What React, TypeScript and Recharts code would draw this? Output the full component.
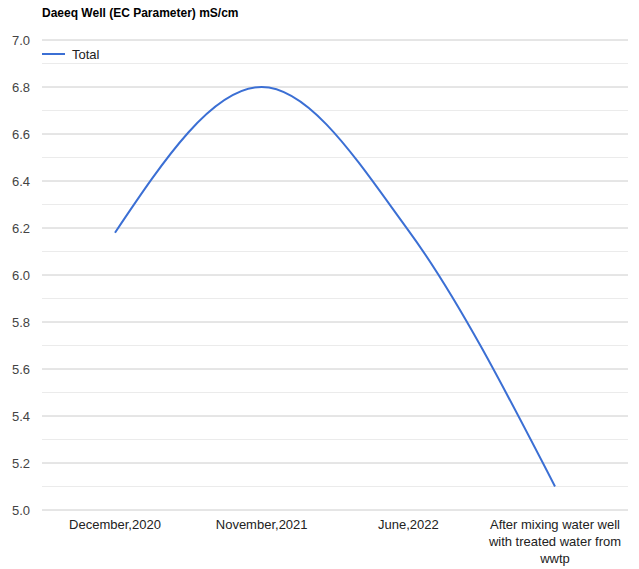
import React from "react";
import { LineChart, Line, XAxis, YAxis, CartesianGrid, ReferenceLine } from "recharts";

const categories = [
  "December,2020",
  "November,2021",
  "June,2022",
  "After mixing water well with treated water from wwtp",
];
const totalValues = [6.18, 6.8, 6.19, 5.1];
const majorTicks = [5.0, 5.2, 5.4, 5.6, 5.8, 6.0, 6.2, 6.4, 6.6, 6.8, 7.0];
const minorTicks = [5.1, 5.3, 5.5, 5.7, 5.9, 6.1, 6.3, 6.5, 6.7, 6.9];
const categoryLines: Record<string, string[]> = {
  "After mixing water well with treated water from wwtp": [
    "After mixing water well",
    "with treated water from",
    "wwtp",
  ],
};

const data = categories.map((c, i) => ({ name: c, Total: totalValues[i] }));

const FONT = "Arial, 'Liberation Sans', sans-serif";
const LINE_COLOR = "#3b6fd4";

const XTick = (props: any) => {
  const { x, y, payload } = props;
  const lines = categoryLines[payload.value] || [payload.value];
  return (
    <text x={x} y={y} textAnchor="middle" fill="#222" fontSize={13} fontFamily={FONT}>
      {lines.map((l: string, i: number) => (
        <tspan key={i} x={x} dy={i === 0 ? 9 : 17}>
          {l}
        </tspan>
      ))}
    </text>
  );
};

export default function App() {
  return (
    <div style={{ position: "absolute", left: 0, top: 0, width: 639, height: 569, background: "#fff" }}>
      <div
        style={{
          position: "absolute",
          left: 42,
          top: 6,
          fontFamily: FONT,
          fontWeight: "bold",
          fontSize: 12,
          color: "#000",
          whiteSpace: "nowrap",
        }}
      >
        Daeeq Well (EC Parameter) mS/cm
      </div>
      <LineChart
        width={639}
        height={569}
        data={data}
        margin={{ top: 40, right: 11, bottom: 0, left: 0 }}
      >
        {minorTicks.map((v) => (
          <ReferenceLine key={v} y={v} stroke="#ebebeb" strokeWidth={1} />
        ))}
        <CartesianGrid vertical={false} stroke="#cccccc" strokeDasharray="" />
        <XAxis
          dataKey="name"
          axisLine={false}
          tickLine={false}
          height={59}
          padding={{ left: 73, right: 73 }}
          interval={0}
          tick={<XTick />}
          tickSize={0}
          tickMargin={10}
        />
        <YAxis
          domain={[5, 7]}
          ticks={majorTicks}
          width={42}
          axisLine={false}
          tickLine={false}
          tickSize={0}
          tickMargin={12}
          interval={0}
          tickFormatter={(v: number) => v.toFixed(1)}
          tick={{ fill: "#444", fontSize: 13, fontFamily: FONT }}
        />
        <Line
          type="monotone"
          dataKey="Total"
          stroke={LINE_COLOR}
          strokeWidth={2}
          dot={false}
          activeDot={false}
          isAnimationActive={false}
        />
      </LineChart>
      <div style={{ position: "absolute", left: 42, top: 44, width: 120, height: 20 }}>
        <svg width={120} height={20}>
          <line x1={0} y1={10} x2={23} y2={10} stroke={LINE_COLOR} strokeWidth={2} />
          <text x={30} y={14.5} fontSize={13} fill="#222" fontFamily={FONT}>
            Total
          </text>
        </svg>
      </div>
    </div>
  );
}
